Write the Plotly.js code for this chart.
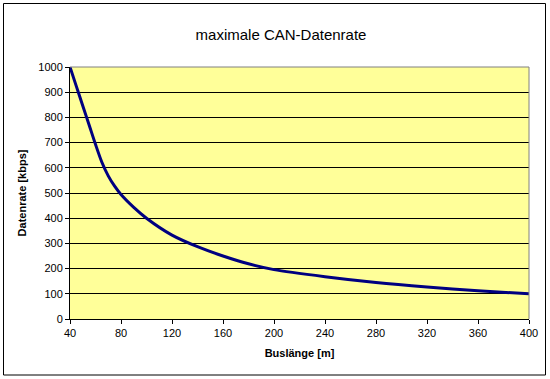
<!DOCTYPE html>
<html>
<head>
<meta charset="utf-8">
<script src="https://cdn.plot.ly/plotly-3.0.1.min.js"></script>
<style>
  html, body { margin: 0; padding: 0; background: #ffffff; }
  #chart { width: 550px; height: 379px; }
</style>
</head>
<body>
<div id="chart"></div>
<script>
// Data
const busLength = [40, 45, 50, 55, 60, 65, 70, 75, 80, 90, 100, 120, 140, 160, 180, 200, 240, 280, 320, 360, 400];
const dataRate  = [1000, 923, 846, 770, 693, 622, 568, 527, 494, 443, 400, 333, 287, 250, 219, 196, 168, 145, 127, 112, 100];
const xTicks = [40, 80, 120, 160, 200, 240, 280, 320, 360, 400];
const yTicks = [0, 100, 200, 300, 400, 500, 600, 700, 800, 900, 1000];

const W = 550, H = 379;
const M = { l: 70, r: 21, t: 67, b: 60 };
const pw = W - M.l - M.r, ph = H - M.t - M.b;
// outer frame in pixel coordinates -> paper coords
const fx = px => (px - M.l) / pw;
const fy = py => (H - M.b - py) / ph;

const font = "Liberation Sans, Arial, sans-serif";

const trace = {
  x: busLength,
  y: dataRate,
  type: 'scatter',
  mode: 'lines',
  line: { color: '#000080', width: 3, shape: 'spline', smoothing: 0.8 },
  hoverinfo: 'x+y'
};

const layout = {
  width: W, height: H,
  margin: M,
  paper_bgcolor: '#ffffff',
  plot_bgcolor: '#ffff99',
  showlegend: false,
  font: { family: font, size: 11, color: '#000000' },
  title: {
    text: 'maximale CAN-Datenrate',
    font: { family: font, size: 15, color: '#000000' },
    x: fx(281), xref: 'paper', xanchor: 'center',
    y: 1 - 35 / H, yref: 'container', yanchor: 'middle'
  },
  xaxis: {
    range: [40, 400],
    tickmode: 'array', tickvals: xTicks, ticktext: xTicks.map(String),
    ticks: 'outside', ticklen: 4, tickcolor: '#000000', tickwidth: 1,
    showline: true, linecolor: '#000000', linewidth: 1,
    showgrid: false, zeroline: false,
    tickfont: { family: font, size: 11, color: '#000000' },
    title: { text: '<b>Buslänge [m]</b>', font: { family: font, size: 11, color: '#000000' }, standoff: 11 },
    fixedrange: true
  },
  yaxis: {
    range: [0, 1000],
    tickmode: 'array', tickvals: yTicks, ticktext: yTicks.map(String),
    ticks: 'outside', ticklen: 4, tickcolor: '#000000', tickwidth: 1,
    showline: true, linecolor: '#000000', linewidth: 1,
    showgrid: true, gridcolor: '#000000', gridwidth: 1,
    zeroline: false,
    tickfont: { family: font, size: 11, color: '#000000' },
    title: { text: '<b>Datenrate [kbps]</b>', font: { family: font, size: 11, color: '#000000' }, standoff: 9 },
    fixedrange: true
  },
  shapes: [
    { type: 'line', xref: 'paper', yref: 'paper', x0: 0, x1: 1, y0: 1, y1: 1,
      line: { color: '#808080', width: 1 }, layer: 'above' },
    { type: 'line', xref: 'paper', yref: 'paper', x0: 1, x1: 1, y0: 0, y1: 1,
      line: { color: '#808080', width: 1 }, layer: 'above' },
    { type: 'rect', xref: 'paper', yref: 'paper',
      x0: fx(3.5), x1: fx(545.5), y0: fy(375), y1: fy(3.5),
      line: { color: '#000000', width: 1 }, fillcolor: 'rgba(0,0,0,0)', layer: 'above' }
  ]
};

Plotly.newPlot('chart', [trace], layout, { displayModeBar: false });
</script>
</body>
</html>
